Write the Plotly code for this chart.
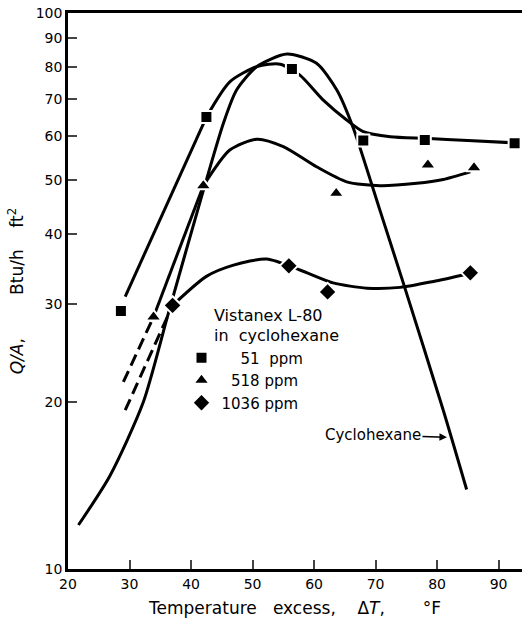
import plotly.graph_objects as go

# ---- measured data points ----
x51 = [28.6, 42.5, 56.4, 68.0, 78.0, 92.6]
y51 = [29.1, 65.0, 79.3, 59.0, 59.1, 58.3]

x518 = [33.9, 42.0, 63.6, 78.5, 86.0]
y518 = [28.4, 48.9, 47.4, 53.3, 52.7]

x1036 = [37.0, 55.9, 62.2, 85.4]
y1036 = [29.8, 35.1, 31.5, 34.1]

# ---- hand-drawn curves ----
c51_line_x = [29.3, 42.5]
c51_line_y = [30.9, 65.0]
c51_curve_x = [42.5, 46.3, 50.7, 54.5, 57.7, 61.5, 65.3, 68.0, 72.4, 78.0, 85.0, 92.6]
c51_curve_y = [65.0, 75.2, 80.1, 80.9, 77.3, 69.7, 64.2, 61.2, 59.9, 59.5, 59.0, 58.4]

c518_dash_x = [29.0, 33.9]
c518_dash_y = [21.7, 28.4]
c518_line_x = [33.9, 42.0]
c518_line_y = [28.4, 48.9]
c518_curve_x = [42.0, 46.3, 50.7, 55.0, 60.4, 65.3, 70.7, 76.7, 81.0, 85.4]
c518_curve_y = [48.9, 56.7, 59.3, 57.5, 52.9, 49.7, 48.9, 49.4, 50.2, 51.8]

c1036_dash_x = [29.3, 37.0]
c1036_dash_y = [19.3, 29.8]
c1036_curve_x = [37.0, 42.5, 46.9, 52.3, 57.7, 63.1, 68.6, 74.0, 79.4, 84.8]
c1036_curve_y = [29.8, 33.6, 35.2, 36.1, 34.5, 32.7, 32.0, 32.1, 32.9, 33.9]

cyc_x = [21.7, 26.8, 32.2, 36.3, 41.7, 45.25, 47.4, 50.7, 55.6, 60.4, 63.7, 66.4, 70.7, 74.5, 81.0, 84.8]
cyc_y = [12.0, 14.7, 19.9, 28.8, 46.7, 63.3, 72.7, 80.1, 84.4, 81.2, 72.7, 62.0, 44.2, 32.7, 19.3, 13.9]

x_ticks = [20, 30, 40, 50, 60, 70, 80, 90]
y_ticks = [10, 20, 30, 40, 50, 60, 70, 80, 90, 100]
y_ticktext = ["10", "20", "30", "40", "50", "60", "70", "80", "90", "100"]

FONT = "DejaVu Sans"
LW = 3
SMOOTH = 0.7

fig = go.Figure()

def line(x, y, shape="linear", dash="solid"):
    fig.add_trace(go.Scatter(x=x, y=y, mode="lines", showlegend=False, hoverinfo="skip",
                             line=dict(color="black", width=LW, shape=shape, dash=dash,
                                       smoothing=SMOOTH)))

line(c51_line_x, c51_line_y)
line(c51_curve_x, c51_curve_y, "spline")
line(c518_dash_x, c518_dash_y, dash="12px,6px")
line(c518_line_x, c518_line_y)
line(c518_curve_x, c518_curve_y, "spline")
line(c1036_dash_x, c1036_dash_y, dash="12px,6px")
line(c1036_curve_x, c1036_curve_y, "spline")
line(cyc_x, cyc_y, "spline")

def markers(x, y, name, symbol, size):
    fig.add_trace(go.Scatter(x=x, y=y, mode="markers", name=name,
                             marker=dict(symbol=symbol, size=size, color="black",
                                         line=dict(color="white", width=2))))

NB = "\u00a0"
markers(x51, y51, NB * 4 + "51" + NB * 2 + "ppm", "square", 12)
markers(x518, y518, NB * 2 + "518 ppm", "triangle-up", 14)
markers(x1036, y1036, "1036 ppm", "diamond", 14)

fig.add_annotation(x=81.6, y=1.237, xref="x", yref="y", text="Cyclohexane",
                   showarrow=True, arrowhead=2, arrowsize=1, arrowwidth=1.5,
                   arrowcolor="black", axref="pixel", ayref="pixel", ax=-74, ay=-2,
                   font=dict(family=FONT, size=15, color="black"))

fig.update_layout(
    width=522, height=622,
    margin=dict(l=68, r=0, t=13, b=53),
    paper_bgcolor="white", plot_bgcolor="white",
    font=dict(family=FONT, size=14, color="black"),
    legend=dict(x=0.25, y=0.484, xanchor="left", yanchor="top",
                bgcolor="rgba(0,0,0,0)",
                title=dict(text=NB * 6 + "Vistanex L-80<br>" + NB * 6 + "in" + NB * 2 + "cyclohexane",
                           side="top",
                           font=dict(family=FONT, size=16)),
                font=dict(family=FONT, size=15), tracegroupgap=0),
    xaxis=dict(range=[20, 93.8], tickvals=x_ticks, ticks="inside", ticklen=9, tickwidth=2,
               showline=True, linecolor="black", linewidth=2.5, mirror=True,
               showgrid=False, zeroline=False,
               tickfont=dict(family=FONT, size=14),
               title=dict(text="Temperature" + NB * 3 + "excess," + NB * 4 + "Δ<i>T</i>," + NB * 7 + "°F",
                          font=dict(family=FONT, size=17), standoff=12)),
    yaxis=dict(type="log", range=[1, 2], tickvals=y_ticks, ticktext=y_ticktext,
               ticks="inside", ticklen=9, tickwidth=2,
               showline=True, linecolor="black", linewidth=2.5, mirror=False,
               showgrid=False, zeroline=False,
               tickfont=dict(family=FONT, size=14),
               title=dict(text="<i>Q/A</i>," + NB * 8 + "Btu/h" + NB * 4 + "ft<sup>2</sup>",
                          font=dict(family=FONT, size=17), standoff=8)),
)

fig.write_html("out.html")
